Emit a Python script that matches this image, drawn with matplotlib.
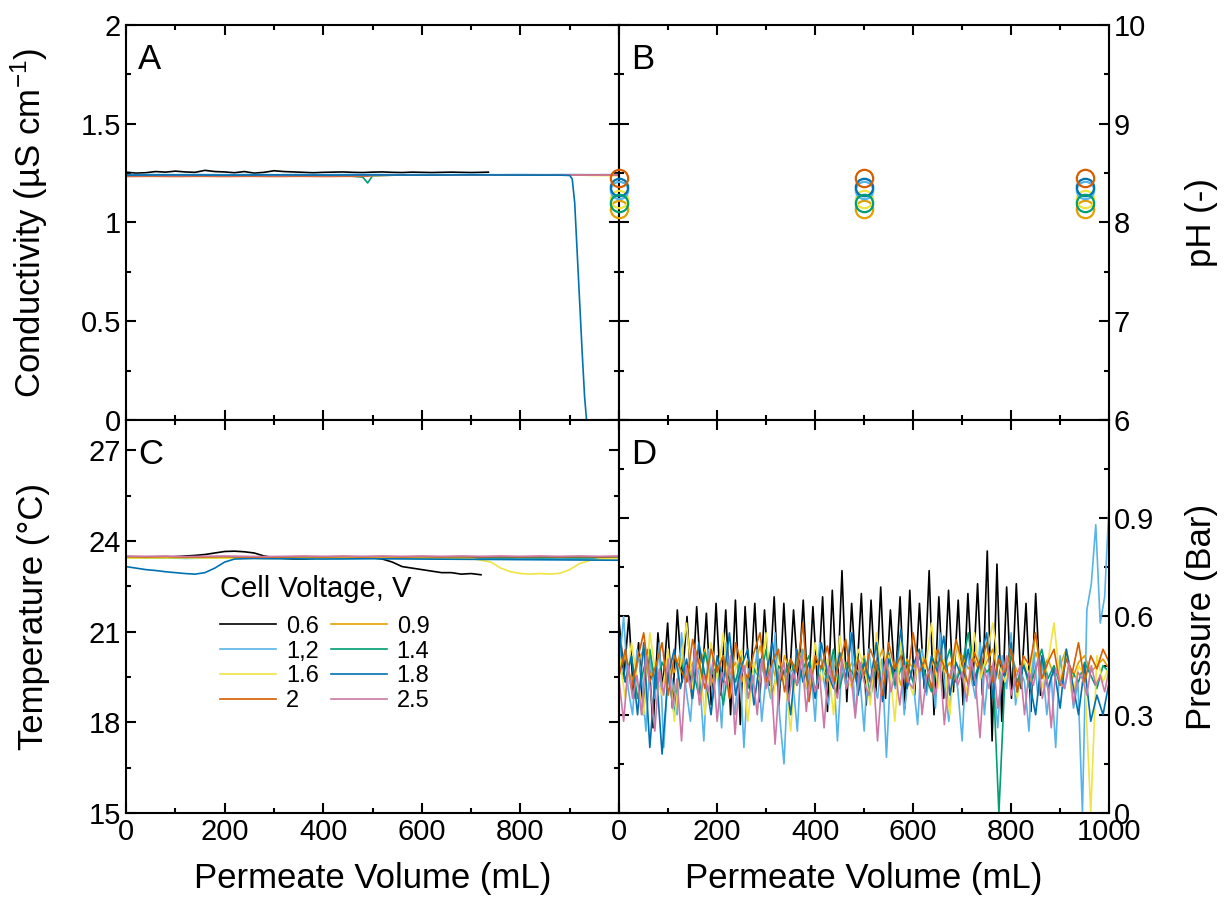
import numpy as np
import matplotlib
matplotlib.use('Agg')
import matplotlib.pyplot as plt
from matplotlib.ticker import MultipleLocator, FuncFormatter

plt.rcParams['font.family'] = ['Liberation Sans', 'DejaVu Sans']
plt.rcParams['mathtext.default'] = 'regular'

# series names and colours (Okabe-Ito)
voltages = ['0.6', '0.9', '1,2', '1.4', '1.6', '1.8', '2', '2.5']
colors = ['#000000', '#E69F00', '#56B4E9', '#009E73',
          '#F0E442', '#0072B2', '#D55E00', '#CC79A7']

# ---- A: conductivity (uS/cm) ----
cond_x_black = [0, 20, 40, 60, 80, 100, 120, 140, 160, 180, 200, 220, 240, 260, 280,
                300, 320, 340, 360, 380, 400, 420, 440, 460, 480, 500, 520, 540,
                560, 580, 600, 620, 640, 660, 680, 700, 720, 735]
cond_black = [1.255, 1.250, 1.252, 1.258, 1.255, 1.260, 1.256, 1.254, 1.264, 1.258,
              1.256, 1.252, 1.258, 1.250, 1.254, 1.262, 1.258, 1.256, 1.254, 1.252,
              1.254, 1.255, 1.256, 1.254, 1.253, 1.255, 1.256, 1.254, 1.253, 1.255,
              1.254, 1.253, 1.254, 1.255, 1.254, 1.253, 1.254, 1.255]
cond_x = [0, 50, 100, 150, 200, 250, 300, 350, 400, 450, 480, 490, 500, 550,
          600, 650, 700, 750, 800, 850, 900, 950, 1000]
cond_other = {
    '0.9': [1.238, 1.240, 1.238, 1.240, 1.239, 1.240, 1.238, 1.240, 1.239, 1.240, 1.240, 1.240,
            1.240, 1.241, 1.240, 1.241, 1.240, 1.241, 1.240, 1.241, 1.240, 1.241, 1.240],
    '1,2': [1.242, 1.243, 1.242, 1.243, 1.242, 1.243, 1.242, 1.243, 1.242, 1.243, 1.243, 1.243,
            1.243, 1.242, 1.243, 1.242, 1.243, 1.242, 1.243, 1.242, 1.243, 1.242, 1.243],
    '1.4': [1.236, 1.237, 1.236, 1.237, 1.236, 1.237, 1.236, 1.237, 1.236, 1.236, 1.230, 1.200,
            1.237, 1.240, 1.241, 1.240, 1.241, 1.240, 1.241, 1.240, 1.241, 1.240, 1.240],
    '1.6': [1.235, 1.236, 1.235, 1.236, 1.235, 1.236, 1.235, 1.236, 1.235, 1.236, 1.236, 1.236,
            1.238, 1.240, 1.241, 1.240, 1.241, 1.240, 1.241, 1.240, 1.241, 1.238, 1.237],
    '2': [1.233, 1.234, 1.233, 1.234, 1.233, 1.234, 1.233, 1.234, 1.233, 1.234, 1.234, 1.235,
          1.238, 1.240, 1.240, 1.241, 1.240, 1.241, 1.240, 1.241, 1.240, 1.241, 1.240],
    '2.5': [1.237, 1.238, 1.237, 1.238, 1.237, 1.238, 1.237, 1.238, 1.237, 1.238, 1.238, 1.238,
            1.239, 1.240, 1.241, 1.240, 1.241, 1.240, 1.241, 1.240, 1.241, 1.240, 1.241],
}
cond_x_18 = [0, 100, 200, 300, 400, 500, 600, 700, 800, 880, 900, 905, 910, 915,
             920, 925, 930, 934]
cond_18 = [1.240, 1.241, 1.240, 1.241, 1.240, 1.241, 1.240, 1.241, 1.240, 1.240,
           1.238, 1.220, 1.100, 0.850, 0.600, 0.350, 0.120, 0.000]

# ---- B: pH ----
ph_x = [0, 500, 950]
ph_order = ['0.9', '1.6', '1,2', '1.8', '1.4', '2']
ph_vals = {'0.9': 8.14, '1.6': 8.24, '1,2': 8.33, '1.8': 8.36, '1.4': 8.20, '2': 8.45}

# ---- C: temperature (degC) ----
temp_x_black = list(range(0, 740, 20))
temp_black = [23.45, 23.45, 23.47, 23.45, 23.46, 23.48, 23.50, 23.52, 23.55, 23.60,
              23.65, 23.66, 23.64, 23.60, 23.50, 23.45, 23.42, 23.40, 23.40, 23.42,
              23.45, 23.44, 23.45, 23.46, 23.45, 23.44, 23.40, 23.30, 23.15, 23.10,
              23.05, 23.00, 22.95, 22.95, 22.90, 22.92, 22.88]
temp_x = list(range(0, 1001, 40))
temp_flat = {
    '0.9': [23.47, 23.46, 23.47, 23.45, 23.46, 23.47, 23.45, 23.46, 23.45, 23.44, 23.45, 23.46, 23.45,
            23.46, 23.45, 23.46, 23.47, 23.46, 23.45, 23.46, 23.45, 23.46, 23.45, 23.46, 23.45, 23.46],
    '1,2': [23.44, 23.43, 23.44, 23.42, 23.43, 23.44, 23.43, 23.42, 23.43, 23.44, 23.43, 23.42, 23.43,
            23.44, 23.43, 23.42, 23.40, 23.40, 23.41, 23.40, 23.41, 23.40, 23.41, 23.40, 23.41, 23.42],
    '1.4': [23.45, 23.44, 23.45, 23.44, 23.45, 23.44, 23.45, 23.44, 23.45, 23.44, 23.45, 23.44, 23.45,
            23.44, 23.45, 23.44, 23.45, 23.44, 23.45, 23.44, 23.45, 23.44, 23.45, 23.44, 23.45, 23.44],
    '2': [23.48, 23.47, 23.48, 23.46, 23.47, 23.48, 23.47, 23.46, 23.47, 23.48, 23.47, 23.48, 23.47,
          23.48, 23.47, 23.48, 23.47, 23.48, 23.47, 23.48, 23.47, 23.48, 23.47, 23.48, 23.47, 23.48],
    '2.5': [23.50, 23.49, 23.50, 23.48, 23.49, 23.50, 23.49, 23.48, 23.49, 23.50, 23.49, 23.50, 23.49,
            23.50, 23.49, 23.50, 23.49, 23.50, 23.49, 23.50, 23.49, 23.50, 23.49, 23.50, 23.49, 23.50],
}
temp_x_16 = [0, 100, 200, 300, 400, 500, 600, 700, 740, 760, 780, 800, 820, 840,
             860, 880, 900, 920, 940, 960, 1000]
temp_16 = [23.43, 23.44, 23.43, 23.42, 23.43, 23.44, 23.43, 23.42, 23.30, 23.10,
           22.98, 22.92, 22.90, 22.92, 22.90, 22.93, 23.05, 23.25, 23.35, 23.40, 23.42]
temp_x_18 = [0, 20, 40, 60, 80, 100, 120, 140, 160, 180, 200, 220, 260, 300,
             400, 500, 600, 700, 800, 900, 1000]
temp_18 = [23.15, 23.10, 23.05, 23.02, 22.98, 22.95, 22.92, 22.90, 22.95, 23.10,
           23.30, 23.40, 23.42, 23.41, 23.40, 23.41, 23.40, 23.39, 23.38, 23.37, 23.36]

# ---- D: pressure (bar) ----
pres_black = [0.58, 0.42, 0.60, 0.35, 0.52, 0.30, 0.50, 0.26, 0.55, 0.38,
              0.58, 0.32, 0.62, 0.40, 0.60, 0.35, 0.63, 0.38, 0.61, 0.33,
              0.64, 0.36, 0.62, 0.30, 0.65, 0.27, 0.63, 0.37, 0.64, 0.34,
              0.62, 0.39, 0.66, 0.33, 0.64, 0.36, 0.62, 0.40, 0.65, 0.35,
              0.63, 0.38, 0.66, 0.31, 0.68, 0.36, 0.74, 0.34, 0.64, 0.40,
              0.67, 0.33, 0.65, 0.37, 0.69, 0.35, 0.62, 0.39, 0.66, 0.32,
              0.68, 0.36, 0.64, 0.38, 0.74, 0.30, 0.66, 0.35, 0.68, 0.37,
              0.65, 0.33, 0.67, 0.39, 0.70, 0.36, 0.80, 0.22, 0.76, 0.28,
              0.69, 0.35, 0.70, 0.38, 0.64, 0.31, 0.67, 0.36]
pres_black_end = 860
pres_12 = [0.45, 0.60, 0.38, 0.30, 0.50, 0.42, 0.25, 0.48, 0.35, 0.52,
           0.20, 0.45, 0.40, 0.30, 0.55, 0.38, 0.28, 0.47, 0.42, 0.22,
           0.50, 0.35, 0.45, 0.26, 0.52, 0.40, 0.30, 0.48, 0.20, 0.44,
           0.38, 0.50, 0.28, 0.42, 0.35, 0.55, 0.30, 0.15, 0.45, 0.40,
           0.25, 0.50, 0.38, 0.45, 0.28, 0.52, 0.40, 0.33, 0.48, 0.22,
           0.46, 0.38, 0.55, 0.30, 0.42, 0.25, 0.50, 0.40, 0.35, 0.47,
           0.17, 0.45, 0.38, 0.52, 0.30, 0.44, 0.40, 0.27, 0.50, 0.36,
           0.45, 0.32, 0.55, 0.40, 0.28, 0.47, 0.38, 0.22, 0.50, 0.42,
           0.35, 0.52, 0.30, 0.45, 0.40, 0.26, 0.48, 0.38, 0.55, 0.33,
           0.44, 0.40, 0.25, 0.50, 0.36, 0.46, 0.30, 0.42, 0.20, 0.48,
           0.38, 0.45, 0.32, 0.40, 0.00, 0.62, 0.70, 0.88, 0.58, 0.66, 0.95]
pres_18 = [0.55, 0.40, 0.48, 0.30, 0.52, 0.20, 0.45, 0.18, 0.42, 0.50,
           0.38, 0.47, 0.35, 0.52, 0.42, 0.30, 0.48, 0.40, 0.55, 0.36,
           0.45, 0.50, 0.33, 0.47, 0.42, 0.52, 0.38, 0.44, 0.30, 0.50,
           0.40, 0.46, 0.35, 0.52, 0.43, 0.38, 0.49, 0.41, 0.55, 0.36,
           0.46, 0.40, 0.52, 0.34, 0.47, 0.42, 0.56, 0.38, 0.45, 0.50,
           0.37, 0.48, 0.43, 0.54, 0.36, 0.46, 0.41, 0.50, 0.39, 0.47,
           0.55, 0.35, 0.48, 0.42, 0.52, 0.37, 0.45, 0.40, 0.30, 0.48,
           0.38, 0.44, 0.32, 0.50, 0.40, 0.30, 0.45, 0.28, 0.36, 0.30, 0.40]
pres_16 = [0.48, 0.35, 0.52, 0.40, 0.30, 0.55, 0.42, 0.36, 0.50, 0.28,
           0.45, 0.58, 0.38, 0.47, 0.30, 0.52, 0.41, 0.55, 0.35, 0.44,
           0.50, 0.28, 0.46, 0.40, 0.55, 0.33, 0.48, 0.42, 0.25, 0.50,
           0.44, 0.36, 0.52, 0.40, 0.47, 0.30, 0.54, 0.42, 0.38, 0.50,
           0.45, 0.33, 0.55, 0.40, 0.48, 0.28, 0.52, 0.42, 0.36, 0.50,
           0.44, 0.58, 0.38, 0.47, 0.30, 0.52, 0.43, 0.36, 0.55, 0.41,
           0.48, 0.58, 0.45, 0.40, 0.52, 0.35, 0.47, 0.42, 0.55, 0.38,
           0.46, 0.58, 0.40, 0.50, 0.35, 0.45, 0.42, 0.00, 0.48, 0.40, 0.45]
pres_14 = [0.45, 0.40, 0.48, 0.35, 0.44, 0.50, 0.38, 0.46, 0.42, 0.30,
           0.47, 0.40, 0.44, 0.36, 0.49, 0.42, 0.45, 0.33, 0.46, 0.40,
           0.48, 0.38, 0.44, 0.41, 0.50, 0.36, 0.45, 0.42, 0.47, 0.39,
           0.44, 0.48, 0.37, 0.45, 0.41, 0.50, 0.38, 0.46, 0.43, 0.40,
           0.47, 0.35, 0.45, 0.42, 0.49, 0.39, 0.44, 0.46, 0.40, 0.48,
           0.42, 0.37, 0.46, 0.44, 0.50, 0.40, 0.45, 0.55, 0.41, 0.47,
           0.43, 0.45, 0.00, 0.42, 0.48, 0.40, 0.46, 0.38, 0.44, 0.50,
           0.41, 0.45, 0.39, 0.47, 0.43, 0.40, 0.46, 0.42, 0.38, 0.45, 0.43]
pres_2 = [0.42, 0.50, 0.38, 0.47, 0.55, 0.40, 0.45, 0.52, 0.36, 0.48,
          0.44, 0.40, 0.53, 0.46, 0.38, 0.50, 0.43, 0.48, 0.35, 0.52,
          0.45, 0.41, 0.49, 0.55, 0.40, 0.46, 0.50, 0.37, 0.47, 0.43,
          0.58, 0.34, 0.48, 0.44, 0.51, 0.40, 0.46, 0.53, 0.39, 0.47,
          0.42, 0.50, 0.45, 0.36, 0.52, 0.44, 0.48, 0.40, 0.55, 0.43,
          0.47, 0.38, 0.50, 0.45, 0.41, 0.53, 0.46, 0.39, 0.49, 0.44,
          0.52, 0.40, 0.47, 0.43, 0.50, 0.37, 0.48, 0.45, 0.55, 0.41,
          0.46, 0.50, 0.39, 0.47, 0.43, 0.52, 0.40, 0.48, 0.44, 0.50, 0.46]
pres_09 = [0.44, 0.48, 0.40, 0.46, 0.50, 0.42, 0.45, 0.38, 0.47, 0.43,
           0.49, 0.41, 0.46, 0.44, 0.50, 0.39, 0.45, 0.48, 0.42, 0.46,
           0.40, 0.47, 0.44, 0.51, 0.42, 0.45, 0.38, 0.48, 0.43, 0.46,
           0.50, 0.41, 0.45, 0.47, 0.40, 0.44, 0.49, 0.42, 0.46, 0.43,
           0.48, 0.40, 0.45, 0.50, 0.42, 0.46, 0.39, 0.47, 0.44, 0.48,
           0.41, 0.45, 0.50, 0.43, 0.46, 0.40, 0.48, 0.44, 0.47, 0.42,
           0.46, 0.50, 0.41, 0.45, 0.48, 0.43, 0.46, 0.40, 0.49, 0.44,
           0.47, 0.42, 0.45, 0.50, 0.41, 0.46, 0.48, 0.43, 0.45, 0.47, 0.44]
pres_25 = [0.40, 0.28, 0.45, 0.35, 0.42, 0.30, 0.48, 0.38, 0.25, 0.44,
           0.36, 0.47, 0.32, 0.41, 0.22, 0.45, 0.38, 0.50, 0.33, 0.42,
           0.37, 0.46, 0.28, 0.43, 0.39, 0.48, 0.24, 0.40, 0.45, 0.35,
           0.42, 0.30, 0.47, 0.38, 0.44, 0.21, 0.41, 0.46, 0.34, 0.43,
           0.39, 0.48, 0.31, 0.44, 0.37, 0.42, 0.26, 0.45, 0.40, 0.35,
           0.47, 0.38, 0.43, 0.29, 0.46, 0.40, 0.36, 0.44, 0.22, 0.41,
           0.47, 0.37, 0.43, 0.33, 0.45, 0.40, 0.38, 0.49, 0.30, 0.42,
           0.44, 0.36, 0.46, 0.27, 0.41, 0.45, 0.39, 0.43, 0.34, 0.47,
           0.40, 0.23, 0.44, 0.38, 0.46, 0.32, 0.42, 0.48, 0.36, 0.41,
           0.45, 0.30, 0.43, 0.39, 0.47, 0.35, 0.42, 0.26, 0.44, 0.40,
           0.38, 0.46, 0.33, 0.43, 0.41, 0.36, 0.45, 0.39, 0.42, 0.37, 0.44]

col = dict(zip(voltages, colors))
lw = 1.2
tick_fs = 21
lab_fs = 25

fig = plt.figure(figsize=(12.31, 9.10), dpi=100)
axA = fig.add_axes([0.1024, 0.5385, 0.4005, 0.4340])
axB = fig.add_axes([0.5030, 0.5385, 0.3980, 0.4340])
axC = fig.add_axes([0.1024, 0.1066, 0.4005, 0.4319])
axD = fig.add_axes([0.5030, 0.1066, 0.3980, 0.4319])

# A
axA.plot(cond_x_black, cond_black, color=col['0.6'], lw=lw)
for v in ['0.9', '1,2', '1.4', '1.6', '2', '2.5']:
    axA.plot(cond_x, cond_other[v], color=col[v], lw=lw)
axA.plot(cond_x_18, cond_18, color=col['1.8'], lw=lw)
axA.set_ylim(0, 2)
axA.yaxis.set_major_locator(MultipleLocator(0.5))
axA.yaxis.set_minor_locator(MultipleLocator(0.25))

# B
for v in ph_order:
    axB.plot(ph_x, [ph_vals[v]] * len(ph_x), 'o', mfc='none', mec=col[v],
             ms=12.5, mew=1.6, clip_on=False, zorder=5)
axB.set_ylim(6, 10)
axB.yaxis.set_major_locator(MultipleLocator(1))
axB.yaxis.set_minor_locator(MultipleLocator(0.5))

# C
handles = {}
handles['0.6'], = axC.plot(temp_x_black, temp_black, color=col['0.6'], lw=lw)
for v in ['0.9', '1,2', '1.4']:
    handles[v], = axC.plot(temp_x, temp_flat[v], color=col[v], lw=lw)
handles['1.6'], = axC.plot(temp_x_16, temp_16, color=col['1.6'], lw=lw)
handles['1.8'], = axC.plot(temp_x_18, temp_18, color=col['1.8'], lw=lw)
for v in ['2', '2.5']:
    handles[v], = axC.plot(temp_x, temp_flat[v], color=col[v], lw=lw)
axC.set_ylim(15, 28)
axC.yaxis.set_major_locator(MultipleLocator(3))
axC.yaxis.set_minor_locator(MultipleLocator(1.5))

order = ['0.6', '1,2', '1.6', '2', '0.9', '1.4', '1.8', '2.5']
leg = axC.legend([handles[k] for k in order], order, ncol=2, frameon=False,
                 title='Cell Voltage, V', loc='upper left',
                 bbox_to_anchor=(0.19, 0.605), borderaxespad=0, borderpad=0,
                 handlelength=2.4, handletextpad=0.4, columnspacing=0.5,
                 labelspacing=0.12, prop={'size': 17},
                 title_fontproperties={'size': 21})
leg._legend_box.align = 'left'
leg._legend_box.sep = 9

# D
pres_series = [('0.6', pres_black, pres_black_end), ('0.9', pres_09, 1000),
               ('1,2', pres_12, 1000), ('1.4', pres_14, 1000),
               ('1.6', pres_16, 1000), ('1.8', pres_18, 1000),
               ('2', pres_2, 1000), ('2.5', pres_25, 1000)]
for v, vals, xend in pres_series:
    axD.plot(np.linspace(0, xend, len(vals)), vals, color=col[v], lw=lw)
axD.set_ylim(0, 1.2)
axD.yaxis.set_major_locator(MultipleLocator(0.3))
axD.yaxis.set_minor_locator(MultipleLocator(0.15))

def fmt(hide):
    def f(v, pos):
        if any(abs(v - h) < 1e-9 for h in hide):
            return ''
        return '%g' % round(v, 3)
    return FuncFormatter(f)

for ax in [axA, axB, axC, axD]:
    ax.set_xlim(0, 1000)
    ax.xaxis.set_major_locator(MultipleLocator(200))
    ax.xaxis.set_minor_locator(MultipleLocator(100))
    ax.tick_params(which='both', direction='in', top=True, bottom=True,
                   left=True, right=True, width=1.5, labelsize=tick_fs)
    ax.tick_params(which='major', length=7)
    ax.tick_params(which='minor', length=3.5)
    for s in ax.spines.values():
        s.set_linewidth(1.5)

axA.tick_params(labelbottom=False)
axB.tick_params(labelbottom=False, labelleft=False, labelright=True)
axD.tick_params(labelleft=False, labelright=True)
axA.yaxis.set_major_formatter(fmt([]))
axB.yaxis.set_major_formatter(fmt([]))
axC.yaxis.set_major_formatter(fmt([]))
axD.yaxis.set_major_formatter(fmt([1.2]))
axC.xaxis.set_major_formatter(fmt([1000]))
axD.xaxis.set_major_formatter(fmt([]))

for ax, letter in [(axA, 'A'), (axB, 'B'), (axC, 'C'), (axD, 'D')]:
    ax.text(0.025, 0.955, letter, transform=ax.transAxes, ha='left', va='top',
            fontsize=25)

axA.set_ylabel('Conductivity (µS cm$^{-1}$)', fontsize=lab_fs)
axC.set_ylabel('Temperature (°C)', fontsize=lab_fs)
axB.yaxis.set_label_position('right')
axD.yaxis.set_label_position('right')
axB.set_ylabel('pH (-)', fontsize=lab_fs)
axD.set_ylabel('Pressure (Bar)', fontsize=lab_fs)
axC.set_xlabel('Permeate Volume (mL)', fontsize=lab_fs)
axD.set_xlabel('Permeate Volume (mL)', fontsize=lab_fs)
axA.yaxis.set_label_coords(-0.155, 0.5)
axC.yaxis.set_label_coords(-0.155, 0.5)
axB.yaxis.set_label_coords(1.155, 0.5)
axD.yaxis.set_label_coords(1.155, 0.5)
axC.xaxis.set_label_coords(0.5, -0.125)
axD.xaxis.set_label_coords(0.5, -0.125)

fig.savefig('out.png', dpi=100)
